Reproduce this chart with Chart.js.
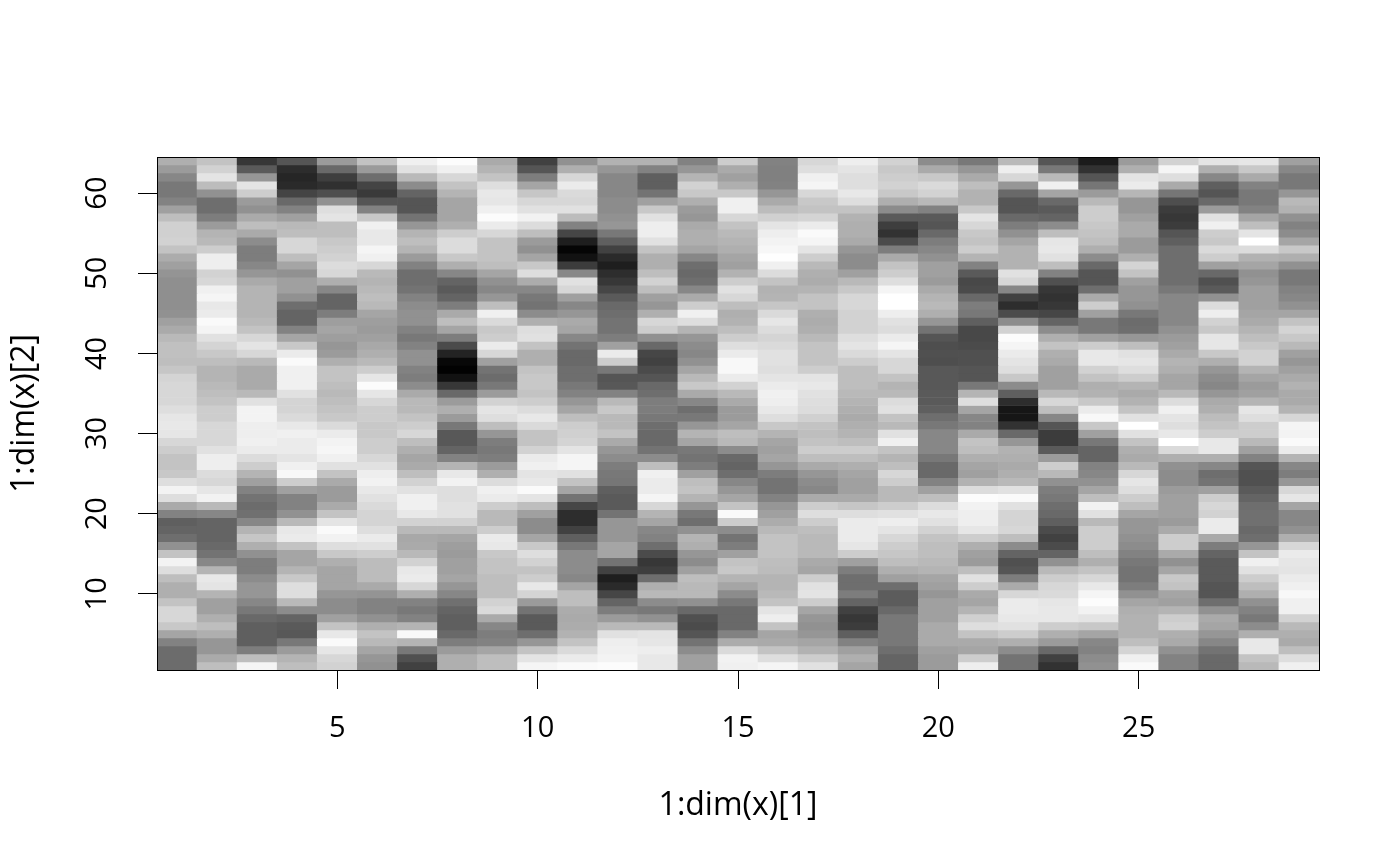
<!DOCTYPE html>
<html>
<head>
<meta charset="utf-8">
<script src="https://cdn.jsdelivr.net/npm/chart.js@4"></script>
<style>
html, body { margin: 0; background: #fff; }
canvas { display: block; }
</style>
</head>
<body>
<canvas id="image-plot" width="1400" height="866"></canvas>
<script>
// grey level of each cell, one array per column, top row (64) first
var col01 = [175,155,135,120,120,130,160,190,208,208,210,195,172,160,148,143,143,143,143,145,160,170,185,192,192,190,198,212,215,215,215,222,230,232,230,215,205,195,195,200,222,243,222,170,130,95,100,110,145,195,243,222,190,175,175,195,215,215,200,165,130,108,108,108];
var col02 = [195,210,228,188,145,110,110,125,155,180,185,205,238,238,210,215,240,245,232,235,250,244,225,212,200,190,180,180,185,190,195,205,205,215,215,215,225,238,238,220,215,230,242,185,135,100,100,100,105,115,135,180,232,228,180,160,160,175,190,175,150,150,170,190];
var col03 = [55,90,150,228,205,155,145,170,190,170,140,125,125,135,150,170,180,180,180,180,185,195,215,228,215,185,170,170,170,185,225,243,243,238,238,240,235,220,205,180,160,130,115,108,112,135,180,198,175,145,125,125,140,150,150,135,120,105,95,95,95,125,190,245];
var col04 = [85,45,38,42,68,105,130,160,185,190,215,215,190,165,145,160,160,145,110,100,100,130,165,200,235,250,240,240,240,225,212,212,218,232,240,235,235,228,240,248,205,160,130,130,145,185,232,235,195,165,165,180,200,222,222,185,140,100,90,88,120,155,180,190];
var col05 = [155,105,62,48,78,145,222,228,190,190,200,205,210,220,215,175,135,100,100,125,158,165,158,150,155,175,195,195,190,185,190,195,200,218,235,243,246,240,225,195,170,155,155,170,195,228,250,242,222,200,175,165,165,165,150,140,140,160,195,232,250,230,215,210];
var col06 = [195,155,110,68,58,85,130,200,240,232,232,245,240,215,185,180,185,190,185,165,158,155,160,168,175,185,205,230,252,230,215,205,205,200,200,205,205,215,225,238,242,232,225,218,212,212,222,235,225,205,188,188,188,170,148,130,130,145,175,195,185,165,150,145];
var col07 = [240,225,185,140,100,85,85,115,150,180,190,180,155,130,110,110,115,130,140,145,145,130,120,130,145,145,130,125,140,170,185,185,195,205,215,190,175,165,170,190,210,225,240,240,232,210,185,168,170,185,210,232,235,215,175,130,120,130,180,248,180,120,80,65];
var col08 = [252,240,215,195,180,165,165,165,175,205,220,220,200,175,135,100,90,100,125,170,190,165,125,75,35,8,2,18,55,105,155,175,155,120,88,88,100,130,180,232,242,222,222,225,225,210,185,165,158,155,160,160,165,150,135,112,100,95,95,105,125,155,175,175];
var col09 = [170,180,195,222,232,230,240,252,235,215,195,195,195,190,165,145,135,150,190,240,218,200,205,235,215,160,115,108,120,155,210,228,222,190,150,125,120,125,155,175,220,240,235,205,185,185,205,235,232,200,195,195,190,190,190,210,218,170,135,125,130,165,190,190];
var col10 = [65,85,125,165,198,215,225,242,220,190,155,145,165,200,222,172,135,120,115,140,175,222,225,195,175,175,195,200,200,195,205,220,232,218,195,195,210,235,240,228,232,250,228,190,160,140,140,165,200,222,210,195,205,232,212,155,115,90,90,110,150,195,228,245];
var col11 = [145,175,215,235,218,215,225,188,130,70,30,5,18,60,135,225,215,160,135,150,170,165,135,115,105,105,110,110,120,130,150,165,190,205,208,212,228,245,245,225,195,165,115,70,45,45,65,95,120,140,140,140,135,165,190,190,172,170,172,178,195,218,235,250];
var col12 = [178,150,135,135,135,140,140,145,150,120,95,65,42,30,45,55,70,90,105,110,115,115,125,160,235,205,120,85,88,130,185,200,185,185,195,170,150,140,125,120,118,95,90,90,115,150,150,150,165,165,115,65,30,42,70,100,125,155,185,225,238,240,243,252];
var col13 = [178,130,95,95,115,160,200,225,238,238,225,195,175,175,190,210,190,160,150,175,215,205,145,105,70,65,75,85,105,110,125,125,120,110,105,105,115,140,190,240,235,235,245,215,180,165,135,130,110,75,55,62,110,175,185,140,120,145,185,228,230,238,232,232];
var col14 = [130,150,180,210,200,175,155,150,170,175,175,165,135,110,105,110,135,170,205,240,222,180,150,140,135,145,165,185,200,170,135,110,120,150,180,165,120,115,125,160,190,195,180,150,120,110,145,180,175,150,140,160,190,185,185,145,105,80,75,85,115,140,160,160];
var col15 = [205,170,160,175,200,240,240,215,195,185,180,175,165,160,178,205,225,215,190,175,178,190,205,222,235,248,248,235,210,185,170,155,155,165,190,185,140,105,100,110,135,150,165,195,250,205,140,115,125,160,195,200,180,165,140,120,105,105,105,130,172,218,242,240];
var col16 = [130,128,128,130,150,170,188,208,228,238,243,247,254,240,220,195,178,180,198,218,230,220,212,218,225,225,222,228,235,240,238,232,222,200,180,165,160,165,150,125,115,115,130,150,160,172,185,195,195,195,190,188,180,180,185,195,228,238,195,165,170,195,222,245];
var col17 = [215,222,240,245,215,200,195,212,235,250,245,228,205,185,175,172,180,195,195,175,172,175,185,195,195,195,205,228,232,225,222,220,208,195,190,195,205,190,170,150,140,135,170,205,222,205,190,185,185,185,170,165,205,225,228,205,165,150,145,150,165,178,205,225];
var col18 = [238,228,222,222,232,222,195,178,175,175,170,150,140,140,160,185,200,215,215,210,210,210,222,228,218,205,190,190,190,185,180,175,170,175,180,190,205,190,175,165,160,160,170,198,222,235,235,235,230,205,160,125,110,110,125,100,65,55,60,95,130,160,175,165];
var col19 = [210,200,205,210,200,175,140,90,62,50,75,125,170,195,205,222,245,255,255,238,225,220,235,245,228,215,215,195,180,185,220,225,195,185,225,240,195,180,190,215,205,185,185,205,225,238,228,215,205,198,190,175,160,110,92,92,105,120,120,120,120,110,100,100];
var col20 = [140,170,200,218,210,185,130,90,85,105,125,135,145,160,160,155,170,180,185,175,150,115,85,78,80,78,88,88,88,90,90,95,110,120,135,135,135,120,105,105,130,160,190,220,232,225,210,195,190,190,185,180,165,160,150,160,160,160,170,170,170,160,155,155];
var col21 = [120,150,170,190,178,178,200,228,215,200,195,205,180,130,90,72,75,105,125,120,95,72,72,75,80,80,85,85,120,180,222,165,135,130,170,195,190,175,165,160,178,220,252,242,238,238,230,205,175,160,155,190,225,205,170,165,180,208,222,195,170,165,205,238];
var col22 = [185,238,215,150,105,85,85,105,125,145,165,178,178,178,225,215,135,65,45,75,140,210,252,245,235,228,222,200,140,95,45,22,22,50,105,150,178,175,170,175,185,225,250,225,212,212,215,190,140,100,80,85,125,170,215,235,235,232,225,205,175,140,115,115];
var col23 = [85,120,185,240,165,105,90,100,140,190,230,232,225,190,130,80,55,50,55,70,100,140,175,195,175,170,160,160,160,185,215,190,135,85,60,60,90,155,205,185,145,125,120,110,105,95,75,65,75,100,145,185,205,215,218,230,232,232,205,175,155,105,65,50];
var col24 = [28,50,85,118,155,185,205,205,200,195,190,175,140,105,85,85,110,170,205,160,120,120,160,205,232,232,210,195,175,178,200,235,248,200,160,120,100,100,130,135,145,165,190,242,225,185,205,205,205,190,175,195,215,232,245,252,242,228,200,165,135,130,140,145];
var col25 = [155,175,228,235,182,150,150,160,170,170,155,155,175,212,195,160,150,150,145,120,108,110,150,190,225,230,222,205,180,170,178,195,225,255,225,195,175,170,185,215,230,222,205,190,165,150,150,145,140,130,120,115,115,125,145,165,175,178,178,178,190,212,240,250];
var col26 = [210,245,222,170,118,78,60,55,60,85,95,110,110,110,110,110,120,135,135,135,135,145,155,160,170,180,175,165,165,185,220,240,228,222,232,255,218,175,145,140,140,155,160,160,160,155,170,205,205,170,145,165,200,195,165,160,180,205,210,175,170,145,130,130];
var col27 = [228,175,135,95,85,105,155,225,240,205,200,218,205,160,105,80,90,145,220,238,210,200,230,230,200,175,150,140,135,150,170,175,188,195,205,232,232,175,135,110,115,160,205,215,210,235,235,170,125,100,90,90,90,85,85,110,145,170,165,150,135,115,105,105];
var col28 = [230,200,170,130,120,120,130,165,190,228,255,220,178,165,145,150,160,160,160,165,170,180,190,200,210,210,180,165,155,160,180,230,222,205,205,185,160,130,85,80,80,90,100,110,112,112,105,110,150,195,240,225,205,190,175,145,130,120,140,175,232,232,195,185];
var col29 = [160,135,120,120,150,185,178,145,130,140,165,200,175,145,120,120,130,135,145,165,195,212,200,185,160,150,160,170,178,170,170,180,215,245,243,250,235,180,135,125,150,215,230,165,135,135,145,175,215,235,230,228,235,240,248,240,240,210,185,175,170,190,222,240];

var columns = [col01,col02,col03,col04,col05,col06,col07,col08,col09,col10,col11,col12,col13,col14,col15,
  col16,col17,col18,col19,col20,col21,col22,col23,col24,col25,col26,col27,col28,col29];
var xTicks = [5, 10, 15, 20, 25];
var yTicks = [10, 20, 30, 40, 50, 60];
var rowCount = 64;

function grey(v) {
  return 'rgb(' + v + ',' + v + ',' + v + ')';
}

// one dataset per row of the image, floating bars one unit high
var datasets = [];
for (var i = 0; i < rowCount; i++) {
  (function (i) {
    var row = rowCount - i;
    datasets.push({
      data: columns.map(function (c, j) { return { x: j + 1, y: [row - 0.5, row + 0.5] }; }),
      backgroundColor: columns.map(function (c) { return grey(c[i]); }),
      barPercentage: 1,
      categoryPercentage: 1
    });
  })(i);
}

var frame = {
  id: 'frame',
  afterDatasetsDraw: function (chart) {
    var a = chart.chartArea, ctx = chart.ctx;
    ctx.save();
    ctx.strokeStyle = '#000';
    ctx.lineWidth = 1;
    ctx.strokeRect(Math.round(a.left) + 0.5, Math.round(a.top) + 0.5, Math.round(a.width), Math.round(a.height));
    ctx.restore();
  }
};

var tickFont = { family: '"Open Sans"', size: 29 };
var titleFont = { family: '"Open Sans"', size: 32 };

new Chart(document.getElementById('image-plot'), {
  type: 'bar',
  data: { datasets: datasets },
  plugins: [frame],
  options: {
    responsive: false,
    animation: false,
    layout: { padding: { left: 0, right: 81, top: 157, bottom: 0 } },
    plugins: { legend: { display: false }, tooltip: { enabled: false } },
    scales: {
      x: {
        type: 'linear',
        stacked: true,
        offset: false,
        min: 0.5,
        max: 29.5,
        afterBuildTicks: function (s) { s.ticks = xTicks.map(function (v) { return { value: v }; }); },
        afterFit: function (s) { s.height = 196; },
        border: { display: false },
        grid: { offset: false, drawOnChartArea: false, tickLength: 19, tickColor: '#000', tickWidth: 1 },
        ticks: { color: '#000', font: tickFont, padding: 22, maxRotation: 0, autoSkip: false },
        title: { display: true, text: '1:dim(x)[1]', color: '#000', font: titleFont, padding: { top: 0, bottom: 41 } }
      },
      y: {
        type: 'linear',
        min: 0.5,
        max: 64.5,
        afterBuildTicks: function (s) { s.ticks = yTicks.map(function (v) { return { value: v }; }); },
        afterFit: function (s) { s.width = 157; },
        border: { display: false },
        grid: { offset: false, drawOnChartArea: false, tickLength: 19, tickColor: '#000', tickWidth: 1 },
        ticks: { color: '#000', font: tickFont, padding: 24, minRotation: 90, maxRotation: 90, crossAlign: 'center', autoSkip: false },
        title: { display: true, text: '1:dim(x)[2]', color: '#000', font: titleFont, padding: { top: 6, bottom: 0 } }
      }
    }
  }
});
</script>
</body>
</html>
